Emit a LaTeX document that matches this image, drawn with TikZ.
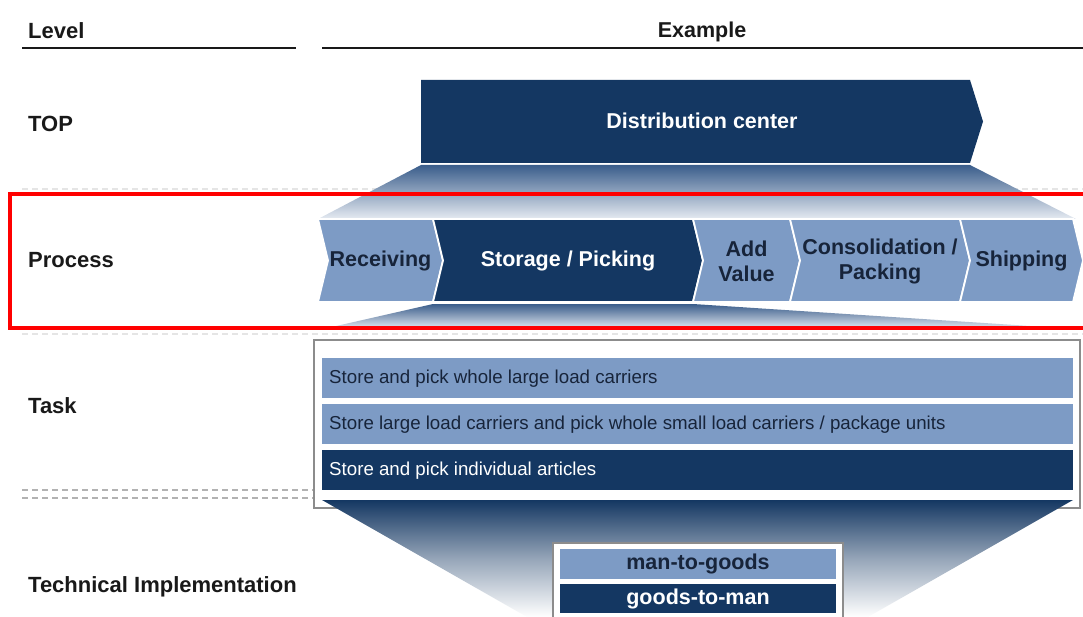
\documentclass[tikz,border=0pt]{standalone}
\usepackage{fontspec}
\setmainfont{Liberation Sans}
\definecolor{navy}{HTML}{143762}
\definecolor{lightblue}{HTML}{7D9BC5}
\definecolor{darktext}{HTML}{17243A}
\definecolor{boxgray}{HTML}{8C8C8C}
\definecolor{funnelhi}{HTML}{3A5D8B}
\definecolor{funnello}{HTML}{E6EBF2}
\begin{document}
\begin{tikzpicture}[x=1pt,y=-1pt,
  levellabel/.style={font=\bfseries\fontsize{22}{24}\selectfont, text=black!90, anchor=west, inner sep=0pt},
  headrule/.style={line width=2.6pt, black!90},
  sep/.style={dashed, dash pattern=on 6pt off 4pt, line width=1.2pt, black!30},
  chevlight/.style={fill=lightblue, draw=white, line width=1.8pt, line join=miter},
  chevdark/.style={fill=navy, draw=white, line width=1.8pt, line join=miter},
  boldtxt/.style={font=\bfseries\fontsize{21.5}{25}\selectfont, align=center, inner sep=0pt},
  tasktxt/.style={font=\fontsize{18.7}{20}\selectfont, anchor=west, inner sep=0pt},
  framebox/.style={draw=boxgray, line width=2pt, fill=white}]
\useasboundingbox (0,0) rectangle (1083,617);
\clip (0,0) rectangle (1083,617);

% column headers
\node[levellabel] (hlevel) at (28,31) {Level};
\node[font=\bfseries\fontsize{21.5}{24}\selectfont, text=black!90, inner sep=0pt] (hexample) at (702,32) {Example};
\coordinate (r1a) at (22,48); \coordinate (r1b) at (296,48);
\coordinate (r2a) at (322,48); \coordinate (r2b) at (1083,48);
\draw[headrule] (r1a) -- (r1b);
\draw[headrule] (r2a) -- (r2b);

% level separators
\draw[sep, black!10] (22,189) -- (1083,189);
\draw[sep, black!10] (22,334) -- (1083,334);
\draw[sep] (22,490) -- (316,490);
\draw[sep] (22,498) -- (316,498);

% level names
\node[levellabel] (ltop) at (28,124) {TOP};
\node[levellabel] (lproc) at (28,260) {Process};
\node[levellabel] (ltask) at (28,406) {Task};
\node[levellabel] (ltech) at (28,587) {Technical Implementation};

% top level
\fill[navy] (421,80) -- (970,80) -- (983,121.5) -- (970,163) -- (421,163) -- cycle;
\node[boldtxt, text=white] (dc) at (702,121) {Distribution center};
\shade[top color=funnelhi, bottom color=funnello] (421,165) -- (970,165) -- (1076,219) -- (318,219) -- cycle;

% process chain
\draw[chevlight] (318,219) -- (433,219) -- (443,260.5) -- (433,302) -- (318,302) -- (328,260.5) -- cycle;
\draw[chevdark]  (433,219) -- (693,219) -- (703,260.5) -- (693,302) -- (433,302) -- (443,260.5) -- cycle;
\draw[chevlight] (693,219) -- (790,219) -- (800,260.5) -- (790,302) -- (693,302) -- (703,260.5) -- cycle;
\draw[chevlight] (790,219) -- (960,219) -- (970,260.5) -- (960,302) -- (790,302) -- (800,260.5) -- cycle;
\draw[chevlight] (960,219) -- (1073,219) -- (1083,260.5) -- (1073,302) -- (960,302) -- (970,260.5) -- cycle;
\node[boldtxt, text=darktext] (recv) at (380.5,261) {Receiving};
\node[boldtxt, text=white] (stor) at (568,261) {Storage / Picking};
\node[boldtxt, text=darktext] (addv) at (746.5,261) {Add\\Value};
\node[boldtxt, text=darktext] (cons) at (880,261) {Consolidation /\\Packing};
\node[boldtxt, text=darktext] (ship) at (1021.5,261) {Shipping};

% funnel from storage/picking to tasks
\shade[top color=funnelhi, bottom color=funnello] (433,304) -- (693,304) -- (1076,329) -- (323,329) -- cycle;

% task level
\draw[framebox] (314,340) rectangle (1080,508);
\fill[lightblue] (322,358) rectangle (1073,398);
\fill[lightblue] (322,404) rectangle (1073,444);
\fill[navy] (322,450) rectangle (1073,490);
\node[tasktxt, text=darktext] (t1) at (329,379) {Store and pick whole large load carriers};
\node[tasktxt, text=darktext] (t2) at (329,425) {Store large load carriers and pick whole small load carriers / package units};
\node[tasktxt, text=white] (t3) at (329,471) {Store and pick individual articles};

% funnel from individual articles to implementation
\shade[top color=navy, bottom color=white, middle color=navy!45!white] (322,500) -- (1073,500) -- (868,617) -- (527,617) -- cycle;

% technical implementation
\draw[framebox] (553,543) rectangle (843,630);
\fill[lightblue] (560,549) rectangle (836,579);
\fill[navy] (560,584) rectangle (836,613);
\node[boldtxt, text=darktext] (m2g) at (698,564) {man-to-goods};
\node[boldtxt, text=white] (g2m) at (698,599) {goods-to-man};

% highlight of the process level
\draw[red, line width=4pt] (10,194) rectangle (1100,328);
\end{tikzpicture}
\end{document}
